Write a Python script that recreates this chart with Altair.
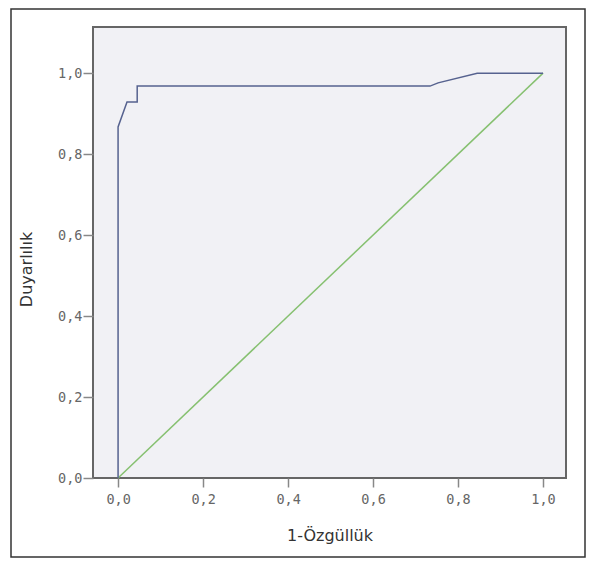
import altair as alt
import pandas as pd

# ROC curve points (1-specificity, sensitivity)
roc_x = [0.0, 0.0, 0.021, 0.045, 0.045, 0.734, 0.753, 0.845, 1.0]
roc_y = [0.0, 0.867, 0.929, 0.929, 0.968, 0.968, 0.976, 1.0, 1.0]

# reference (chance) diagonal
ref_x = [0.0, 1.0]
ref_y = [0.0, 1.0]

tick_values = [0.0, 0.2, 0.4, 0.6, 0.8, 1.0]
x_title = "1-Özgüllük"
y_title = "Duyarlılık"

roc = pd.DataFrame({"x": roc_x, "y": roc_y, "i": list(range(len(roc_x)))})
ref = pd.DataFrame({"x": ref_x, "y": ref_y, "i": list(range(len(ref_x)))})

label_expr = "replace(format(datum.value, '.1f'), '.', ',')"

xscale = alt.Scale(domain=[-0.059, 1.054], nice=False, zero=False)
yscale = alt.Scale(domain=[0.0, 1.114], nice=False, zero=False)

xaxis = alt.Axis(
    title=x_title, values=tick_values, labelExpr=label_expr, grid=False,
    domain=False, ticks=True, tickSize=9, tickColor="#888", tickWidth=1.5,
    labelFont="DejaVu Sans Mono", labelFontSize=13.5, labelColor="#666",
    labelPadding=5, titleFont="DejaVu Sans", titleFontSize=16,
    titleFontWeight="normal", titleColor="#333", titlePadding=22,
)
yaxis = alt.Axis(
    title=y_title, values=tick_values, labelExpr=label_expr, grid=False,
    domain=False, ticks=True, tickSize=10, tickColor="#888", tickWidth=1.5,
    labelFont="DejaVu Sans Mono", labelFontSize=13.5, labelColor="#666",
    labelPadding=1, titleFont="DejaVu Sans", titleFontSize=16,
    titleFontWeight="normal", titleColor="#333", titleX=-59, titleY=242,
)

ref_line = alt.Chart(ref).mark_line(color="#86c070", strokeWidth=1.5).encode(
    x=alt.X("x:Q", scale=xscale, axis=xaxis),
    y=alt.Y("y:Q", scale=yscale, axis=yaxis),
    order="i:Q",
)
roc_line = alt.Chart(roc).mark_line(color="#56628f", strokeWidth=1.5).encode(
    x=alt.X("x:Q", scale=xscale),
    y=alt.Y("y:Q", scale=yscale),
    order="i:Q",
)

border = alt.Chart(pd.DataFrame({"a": [0]})).mark_rect(
    fill=None, stroke="#333", strokeWidth=1.5
).encode(
    x=alt.value(-82), x2=alt.value(492), y=alt.value(-18), y2=alt.value(530)
)

chart = alt.layer(ref_line, roc_line, border).properties(
    width=473, height=451,
    autosize=alt.AutoSizeParams(type="none"),
    padding={"left": 85, "top": 19, "right": 21, "bottom": 80},
    background="white",
).configure_view(
    fill="#f1f1f5", stroke="#666", strokeWidth=2
)

chart.save("out.html", embed_options={"renderer": "svg", "actions": False})
